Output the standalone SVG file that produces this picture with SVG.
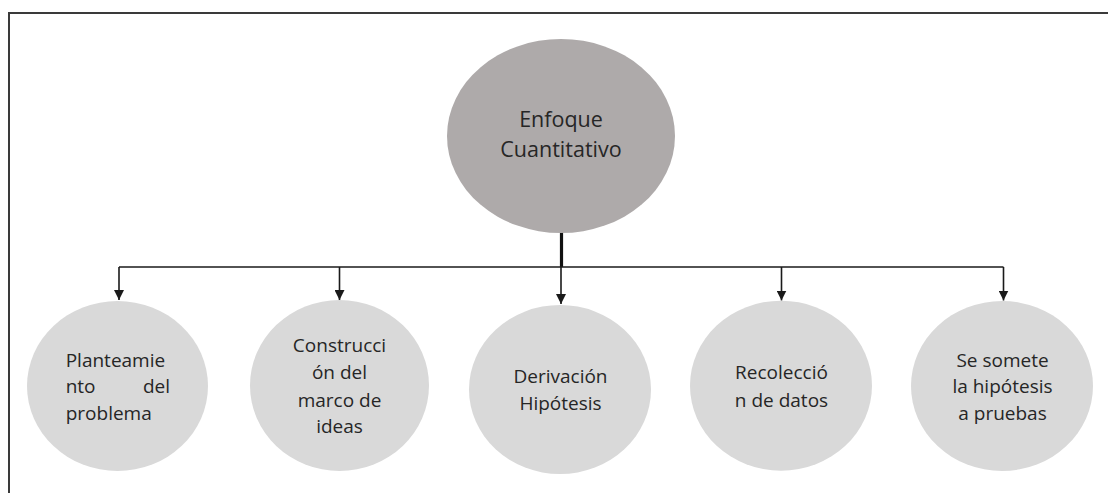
<svg xmlns="http://www.w3.org/2000/svg" width="1108" height="493" viewBox="0 0 1108 493">
  <style>
    .frame { fill: none; stroke: #3a3a3a; stroke-width: 2; }
    .conn { fill: none; stroke: #1a1a1a; stroke-width: 1.6; }
    .main { fill: #AEAAAA; }
    .sub { fill: #D9D9D9; }
    .lbl { font-family: "Open Sans", "Liberation Sans", sans-serif; font-size: 19px; fill: #262626; }
    .mlbl { font-family: "Open Sans", "Liberation Sans", sans-serif; font-size: 21.5px; fill: #262626; text-anchor: middle; }
    .c { text-anchor: middle; }
  </style>
  <defs>
    <marker id="arr" markerUnits="userSpaceOnUse" markerWidth="10" markerHeight="10" viewBox="0 0 9 9" refX="9" refY="4.5" orient="auto">
      <path d="M0,0 L9,4.5 L0,9 z" fill="#1a1a1a"/>
    </marker>
  </defs>
  <rect width="1108" height="493" fill="#ffffff"/>
  <path class="frame" d="M9,493 L9,13 L1108,13"/>

  <g id="connectors">
    <path d="M561.5,232 L561.5,267" fill="none" stroke="#111" stroke-width="3.2"/>
    <path class="conn" d="M119,267 L1003.5,267"/>
    <path class="conn" d="M119,267 L119,300" marker-end="url(#arr)"/>
    <path class="conn" d="M339.5,267 L339.5,300" marker-end="url(#arr)"/>
    <path class="conn" d="M561,267 L561,304" marker-end="url(#arr)"/>
    <path class="conn" d="M781.5,267 L781.5,300.5" marker-end="url(#arr)"/>
    <path class="conn" d="M1003.5,267 L1003.5,300.5" marker-end="url(#arr)"/>
  </g>

  <g id="node-enfoque">
    <ellipse class="main" cx="561" cy="136" rx="114" ry="97"/>
    <text class="mlbl" x="561" y="127">Enfoque</text>
    <text class="mlbl" x="561" y="157">Cuantitativo</text>
  </g>

  <g id="node-planteamiento">
    <ellipse class="sub" cx="117.5" cy="386" rx="90.5" ry="85"/>
    <text class="lbl" x="65.7" y="366.7">Planteamie</text>
    <text class="lbl" x="65.7" y="393">nto</text>
    <text class="lbl" x="170" y="393" text-anchor="end">del</text>
    <text class="lbl" x="65.7" y="420">problema</text>
  </g>

  <g id="node-construccion">
    <ellipse class="sub" cx="339.5" cy="385.5" rx="89.5" ry="85.5"/>
    <text class="lbl c" x="339.5" y="351.7">Construcci</text>
    <text class="lbl c" x="339.5" y="379">ón del</text>
    <text class="lbl c" x="339.5" y="406.5">marco de</text>
    <text class="lbl c" x="339.5" y="433">ideas</text>
  </g>

  <g id="node-derivacion">
    <ellipse class="sub" cx="560" cy="389.5" rx="91" ry="84.5"/>
    <text class="lbl c" x="560.5" y="383">Derivación</text>
    <text class="lbl c" x="560.5" y="410">Hipótesis</text>
  </g>

  <g id="node-recoleccion">
    <ellipse class="sub" cx="781" cy="385.7" rx="91" ry="85"/>
    <text class="lbl c" x="781.5" y="379.3">Recolecció</text>
    <text class="lbl c" x="781.5" y="406.7">n de datos</text>
  </g>

  <g id="node-prueba">
    <ellipse class="sub" cx="1002" cy="386" rx="91" ry="85"/>
    <text class="lbl c" x="1002.5" y="366.7">Se somete</text>
    <text class="lbl c" x="1002.5" y="393.3">la hipótesis</text>
    <text class="lbl c" x="1002.5" y="420">a pruebas</text>
  </g>
</svg>
